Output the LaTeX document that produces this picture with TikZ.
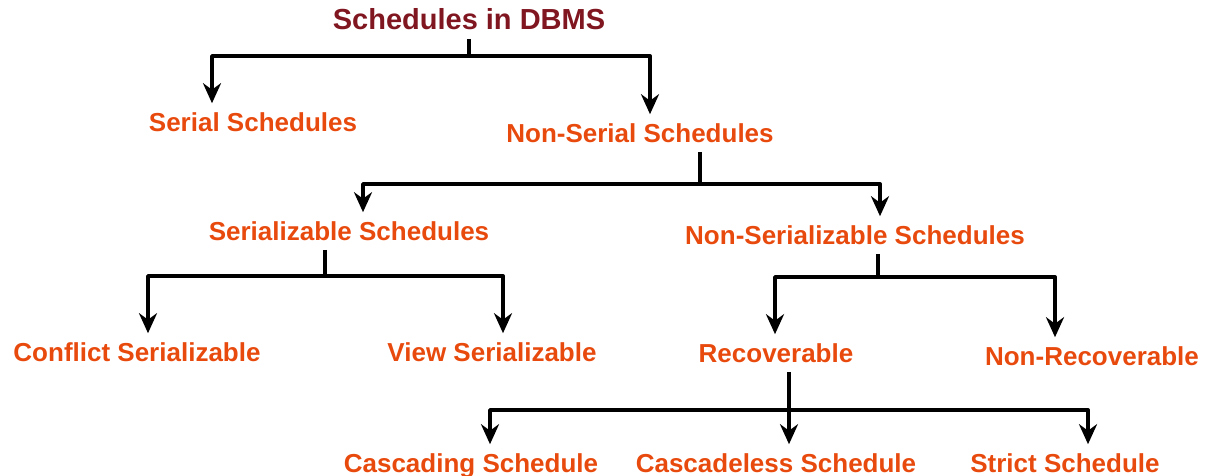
\documentclass[tikz,border=0pt]{standalone}
\usepackage{fontspec}
\setmainfont{Liberation Sans}
\usetikzlibrary{arrows.meta}
\definecolor{schedred}{RGB}{232,74,14}
\definecolor{headred}{RGB}{128,22,32}

\begin{document}
\begin{tikzpicture}[x=0.02cm,y=-0.02cm,
        sched/.style={text=schedred,font=\fontsize{14.8}{18}\selectfont\bfseries,
                      inner sep=0pt,text height=16pt,text depth=5pt},
        head/.style={sched,text=headred,font=\fontsize{16.5}{19}\selectfont\bfseries},
        tree/.style={line width=2.2pt,line join=round},
        arr/.style={tree,-{Stealth[length=0.4cm,width=0.36cm]}}]
                    \useasboundingbox (0,0) rectangle (1212,476);
                    \node[head] (dbms) at (469,20) {Schedules in DBMS};
                    \node[sched] (serial) at (253,122) {Serial Schedules};
                    \node[sched] (nonserial) at (640,133) {Non-Serial Schedules};
                    \node[sched] (sable) at (349,231) {Serializable Schedules};
                    \node[sched] (nonsable) at (855,235) {Non-Serializable Schedules};
                    \node[sched] (conflict) at (137,352) {Conflict Serializable};
                    \node[sched] (view) at (492,352) {View Serializable};
                    \node[sched] (recov) at (776,353) {Recoverable};
                    \node[sched] (nonrecov) at (1092,356) {Non-Recoverable};
                    \node[sched] (casc) at (471,463) {Cascading Schedule};
                    \node[sched] (cascless) at (776,463) {Cascadeless Schedule};
                    \node[sched] (strict) at (1065,463) {Strict Schedule};
                    % branch points
                    \coordinate (b1) at (469,56);
                    \coordinate (b2) at (700,184);
                    \coordinate (b3) at (325,276);
                    \coordinate (b4) at (878,277);
                    \coordinate (b5) at (789,410);
                    \draw[tree] (dbms.south) -- (b1);
                    \draw[arr] (b1) -| (serial.north -| 212,0);
                    \draw[arr] (b1) -| (nonserial.north -| 650,0);
                    \draw[tree] (nonserial.south -| b2) -- (b2);
                    \draw[arr] (b2) -| (sable.north -| 363,0);
                    \draw[arr] (b2) -| (nonsable.north -| 880,0);
                    \draw[tree] (sable.south -| b3) -- (b3);
                    \draw[arr] (b3) -| (conflict.north -| 148,0);
                    \draw[arr] (b3) -| (view.north -| 503,0);
                    \draw[tree] (nonsable.south -| b4) -- (b4);
                    \draw[arr] (b4) -| (recov.north -| 775,0);
                    \draw[arr] (b4) -| (nonrecov.north -| 1055,0);
                    \draw[tree] (recov.south -| b5) -- (b5);
                    \draw[arr] (b5) -| (casc.north -| 490,0);
                    \draw[arr] (b5) -- (cascless.north -| b5);
                    \draw[arr] (b5) -| (strict.north -| 1088,0);
            \end{tikzpicture}
\end{document}
